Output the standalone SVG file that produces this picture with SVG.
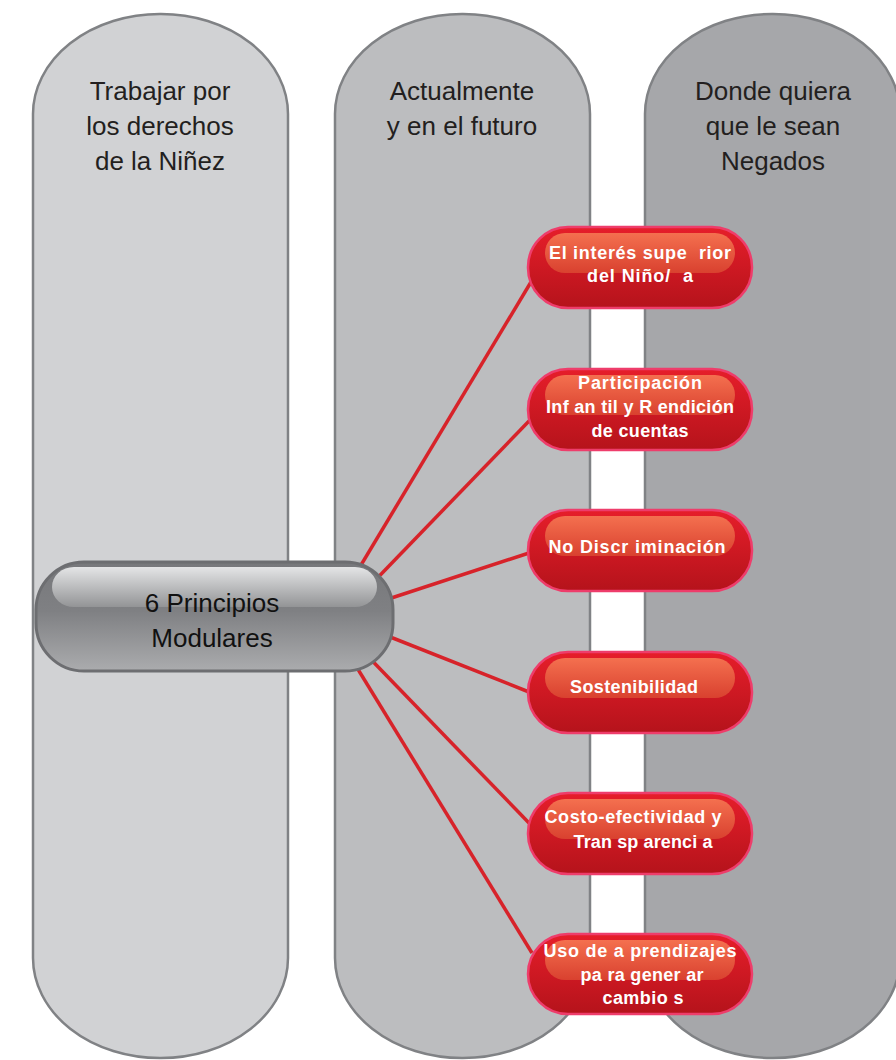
<svg xmlns="http://www.w3.org/2000/svg" width="896" height="1060" viewBox="0 0 896 1060">
<defs>
<linearGradient id="gCenter" x1="0" y1="0" x2="0" y2="1">
<stop offset="0" stop-color="#77787b"/>
<stop offset="0.45" stop-color="#7f8083"/>
<stop offset="1" stop-color="#abacae"/>
</linearGradient>
<linearGradient id="gCenterHi" x1="0" y1="0" x2="0" y2="1">
<stop offset="0" stop-color="#e4e5e6"/>
<stop offset="1" stop-color="#939496"/>
</linearGradient>
<linearGradient id="gRed" x1="0" y1="0" x2="0" y2="1">
<stop offset="0" stop-color="#e61e2a"/>
<stop offset="1" stop-color="#b5131b"/>
</linearGradient>
<linearGradient id="gRedHi" x1="0" y1="0" x2="0" y2="1">
<stop offset="0" stop-color="#f4704f"/>
<stop offset="1" stop-color="#d9412f"/>
</linearGradient>
</defs>
<style>
.col{stroke:#808285;stroke-width:2.5}
.hdr{font-family:"Liberation Sans",Arial,sans-serif;font-size:26px;fill:#231f20;text-anchor:middle}
.ctr{font-family:"Liberation Sans",Arial,sans-serif;font-size:26px;fill:#111111;text-anchor:middle}
.red{fill:url(#gRed);stroke:#ee3d6b;stroke-width:2.5}
.redhi{fill:url(#gRedHi)}
.rt{font-family:"Liberation Sans",Arial,sans-serif;font-size:18px;font-weight:bold;fill:#ffffff;text-anchor:middle;white-space:pre}
.conn{stroke:#d7232a;stroke-width:3.5;fill:none}
</style>
<g id="col1">
<rect class="col" x="33" y="14" width="255" height="1044" rx="127" ry="100" fill="#d1d2d4"/>
<text class="hdr" x="160" y="100">Trabajar por</text>
<text class="hdr" x="160" y="135">los derechos</text>
<text class="hdr" x="160" y="170">de la Niñez</text>
</g>
<g id="col2">
<rect class="col" x="335" y="14" width="255" height="1044" rx="127" ry="100" fill="#bcbdbf"/>
<text class="hdr" x="462" y="100">Actualmente</text>
<text class="hdr" x="462" y="135">y en el futuro</text>
</g>
<g id="col3">
<rect class="col" x="645" y="14" width="255" height="1044" rx="127" ry="100" fill="#a6a7aa"/>
<text class="hdr" x="773" y="100">Donde quiera</text>
<text class="hdr" x="773" y="135">que le sean</text>
<text class="hdr" x="773" y="170">Negados</text>
</g>
<g id="connectors">
<line class="conn" x1="340" y1="600" x2="531" y2="282"/>
<line class="conn" x1="360" y1="596" x2="530" y2="420"/>
<line class="conn" x1="370" y1="605" x2="529" y2="553"/>
<line class="conn" x1="370" y1="629" x2="529" y2="692"/>
<line class="conn" x1="355" y1="643" x2="529" y2="823"/>
<line class="conn" x1="340" y1="640" x2="532" y2="953"/>
</g>
<g id="center">
<rect x="36" y="562" width="357" height="109" rx="48" ry="48" fill="url(#gCenter)" stroke="#6d6e71" stroke-width="3"/>
<rect x="52" y="567" width="325" height="40" rx="22" ry="20" fill="url(#gCenterHi)"/>
<text class="ctr" x="212" y="612">6 Principios</text>
<text class="ctr" x="212" y="647">Modulares</text>
</g>
<g id="n1">
<rect class="red" x="528" y="227" width="224" height="81" rx="40"/>
<rect class="redhi" x="545" y="233" width="190" height="40" rx="20"/>
<text class="rt" x="640" y="259" textLength="182" lengthAdjust="spacing">El interés supe  rior</text>
<text class="rt" x="640" y="282" textLength="106" lengthAdjust="spacing">del Niño/  a</text>
</g>
<g id="n2">
<rect class="red" x="528" y="369" width="224" height="81" rx="40"/>
<rect class="redhi" x="545" y="375" width="190" height="40" rx="20"/>
<text class="rt" x="640" y="389" textLength="124" lengthAdjust="spacing">Participación</text>
<text class="rt" x="640" y="413" textLength="188" lengthAdjust="spacing">Inf an til y R endición</text>
<text class="rt" x="640" y="437" textLength="97" lengthAdjust="spacing">de cuentas</text>
</g>
<g id="n3">
<rect class="red" x="528" y="510" width="224" height="81" rx="40"/>
<rect class="redhi" x="545" y="516" width="190" height="40" rx="20"/>
<text class="rt" x="637" y="553" textLength="177" lengthAdjust="spacing">No Discr iminación</text>
</g>
<g id="n4">
<rect class="red" x="528" y="652" width="224" height="81" rx="40"/>
<rect class="redhi" x="545" y="658" width="190" height="40" rx="20"/>
<text class="rt" x="634" y="693" textLength="128" lengthAdjust="spacing">Sostenibilidad</text>
</g>
<g id="n5">
<rect class="red" x="528" y="793" width="224" height="81" rx="40"/>
<rect class="redhi" x="545" y="799" width="190" height="40" rx="20"/>
<text class="rt" x="633" y="823" textLength="177" lengthAdjust="spacing">Costo-efectividad y</text>
<text class="rt" x="643" y="848" textLength="139" lengthAdjust="spacing">Tran sp arenci a</text>
</g>
<g id="n6">
<rect class="red" x="528" y="934" width="224" height="80" rx="40"/>
<rect class="redhi" x="545" y="940" width="190" height="40" rx="20"/>
<text class="rt" x="640" y="957" textLength="193" lengthAdjust="spacing">Uso de a prendizajes</text>
<text class="rt" x="642" y="981" textLength="123" lengthAdjust="spacing">pa ra gener ar</text>
<text class="rt" x="643" y="1004" textLength="81" lengthAdjust="spacing">cambio s</text>
</g>
</svg>
